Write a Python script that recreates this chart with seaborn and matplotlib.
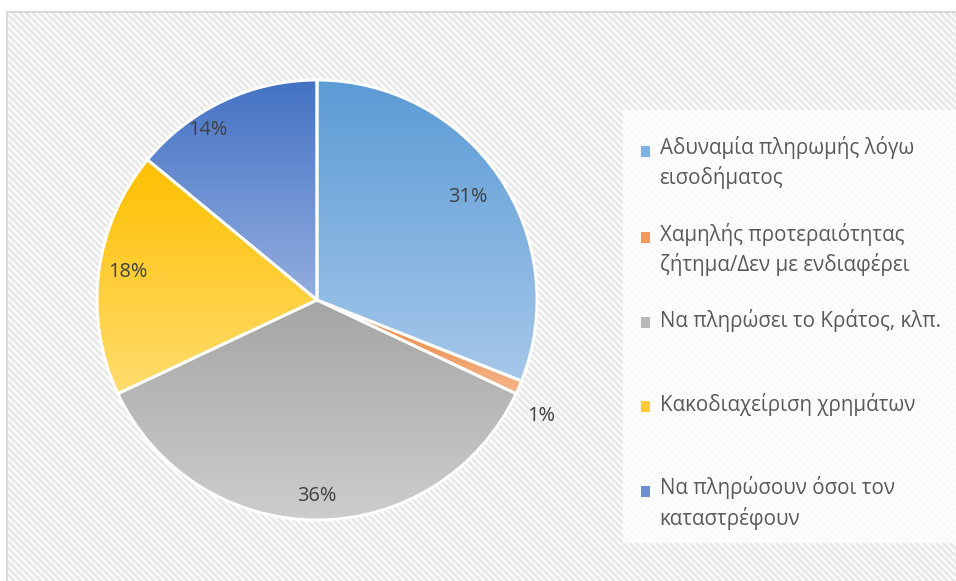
import numpy as np
import matplotlib
matplotlib.use("Agg")
import matplotlib.pyplot as plt
import seaborn as sns
from matplotlib.patches import Rectangle, Patch
from matplotlib.colors import LinearSegmentedColormap
from matplotlib.legend_handler import HandlerPatch

# Data
labels = [
    "Αδυναμία πληρωμής λόγω\nεισοδήματος",
    "Χαμηλής προτεραιότητας\nζήτημα/Δεν με ενδιαφέρει",
    "Να πληρώσει το Κράτος, κλπ.",
    "Κακοδιαχείριση χρημάτων",
    "Να πληρώσουν όσοι τον\nκαταστρέφουν",
]
shares = [31, 1, 36, 18, 14]

# gradient colours per slice (top -> bottom)
top_colors = ["#5B9BD5", "#ED7D31", "#A5A5A5", "#FFC000", "#4472C4"]
bottom_colors = ["#A6C8EA", "#F5B68C", "#CDCDCD", "#FFDC6E", "#93AEDF"]
legend_colors = ["#7EB0E0", "#F19A5E", "#B9B9B9", "#FFCC33", "#6A8FD2"]
# % label placement: fraction of radius and turn (deg) from the slice bisector
label_dist = [0.83, 1.15, 0.89, 0.87, 0.92]
label_turn = [0, -4, 0, -1.2, 7.5]

sns.set_theme(style="white")
plt.rcParams["font.family"] = ["Open Sans", "DejaVu Sans"]
plt.rcParams["hatch.linewidth"] = 2.0

W, H, DPI = 956, 581, 80
fig = plt.figure(figsize=(W / DPI, H / DPI), dpi=DPI)
fig.patch.set_facecolor("white")

# hatched chart-area background with light frame
fig.add_artist(Rectangle((7 / W, 0), 1, (H - 12) / H, transform=fig.transFigure,
                         facecolor="#FBFBFB", edgecolor="#E6E6E6", lw=0,
                         hatch="\\\\\\\\", zorder=-3))
fig.add_artist(Rectangle((7 / W, -0.05), 1.1, (H - 12) / H + 0.05, transform=fig.transFigure,
                         facecolor="none", edgecolor="#D9D9D9", lw=1.8, zorder=-2))
# legend background
fig.add_artist(Rectangle((623 / W, 1 - 543 / H), 1, (543 - 110) / H, transform=fig.transFigure,
                         facecolor="white", edgecolor="none", alpha=0.8, zorder=-1))

# pie axes: centre (317, 300) px, radius 220 px
cx, cy, r = 317, 300, 220
ax = fig.add_axes([(cx - r) / W, (H - cy - r) / H, 2 * r / W, 2 * r / H])
ax.patch.set_visible(False)

wedges, texts, autotexts = ax.pie(
    shares, startangle=90, counterclock=False, radius=1,
    autopct="%1.0f%%", pctdistance=0.85,
    wedgeprops=dict(edgecolor="white", linewidth=2.6, facecolor="none"),
    textprops=dict(color="#404040", fontsize=18),
)

for i, w in enumerate(wedges):
    w.set_zorder(3)
    ext = w.get_path().get_extents()
    cmap = LinearSegmentedColormap.from_list(f"g{i}", [top_colors[i], bottom_colors[i]])
    grad = np.linspace(0, 1, 256).reshape(-1, 1)
    im = ax.imshow(grad, extent=(ext.x0, ext.x1, ext.y0, ext.y1), origin="upper",
                   cmap=cmap, aspect="auto", zorder=2, interpolation="bilinear")
    im.set_clip_path(w)
    # place % label
    ang = np.deg2rad((w.theta1 + w.theta2) / 2 + label_turn[i])
    autotexts[i].set_position((label_dist[i] * np.cos(ang), label_dist[i] * np.sin(ang)))
    autotexts[i].set_zorder(4)

ax.set_xlim(-1, 1)
ax.set_ylim(-1, 1)
ax.axis("off")

# legend: marker aligned with first line of each entry
leg_fs = 18.5
line_sp = 1.40


def top_square(legend, orig_handle, xdescent, ydescent, width, height, fontsize):
    shift = 0.5 * line_sp * 0.76 * fontsize + 1.5
    return Rectangle((-xdescent, -ydescent + shift), width, height)


handles = [Patch(facecolor=c, edgecolor="white", lw=0.8) for c in legend_colors]
leg_labels = [l if "\n" in l else l + "\n" for l in labels]
leg = fig.legend(handles, leg_labels, loc="upper left",
                 bbox_to_anchor=(640 / W, 1 - 136 / H), frameon=False,
                 fontsize=leg_fs, handlelength=0.5, handleheight=0.5,
                 handletextpad=0.45, labelspacing=1.62, borderpad=0, borderaxespad=0,
                 handler_map={Patch: HandlerPatch(patch_func=top_square)})
for t in leg.get_texts():
    t.set_color("#595959")
    t.set_linespacing(line_sp)

fig.savefig("out.png", dpi=DPI)
